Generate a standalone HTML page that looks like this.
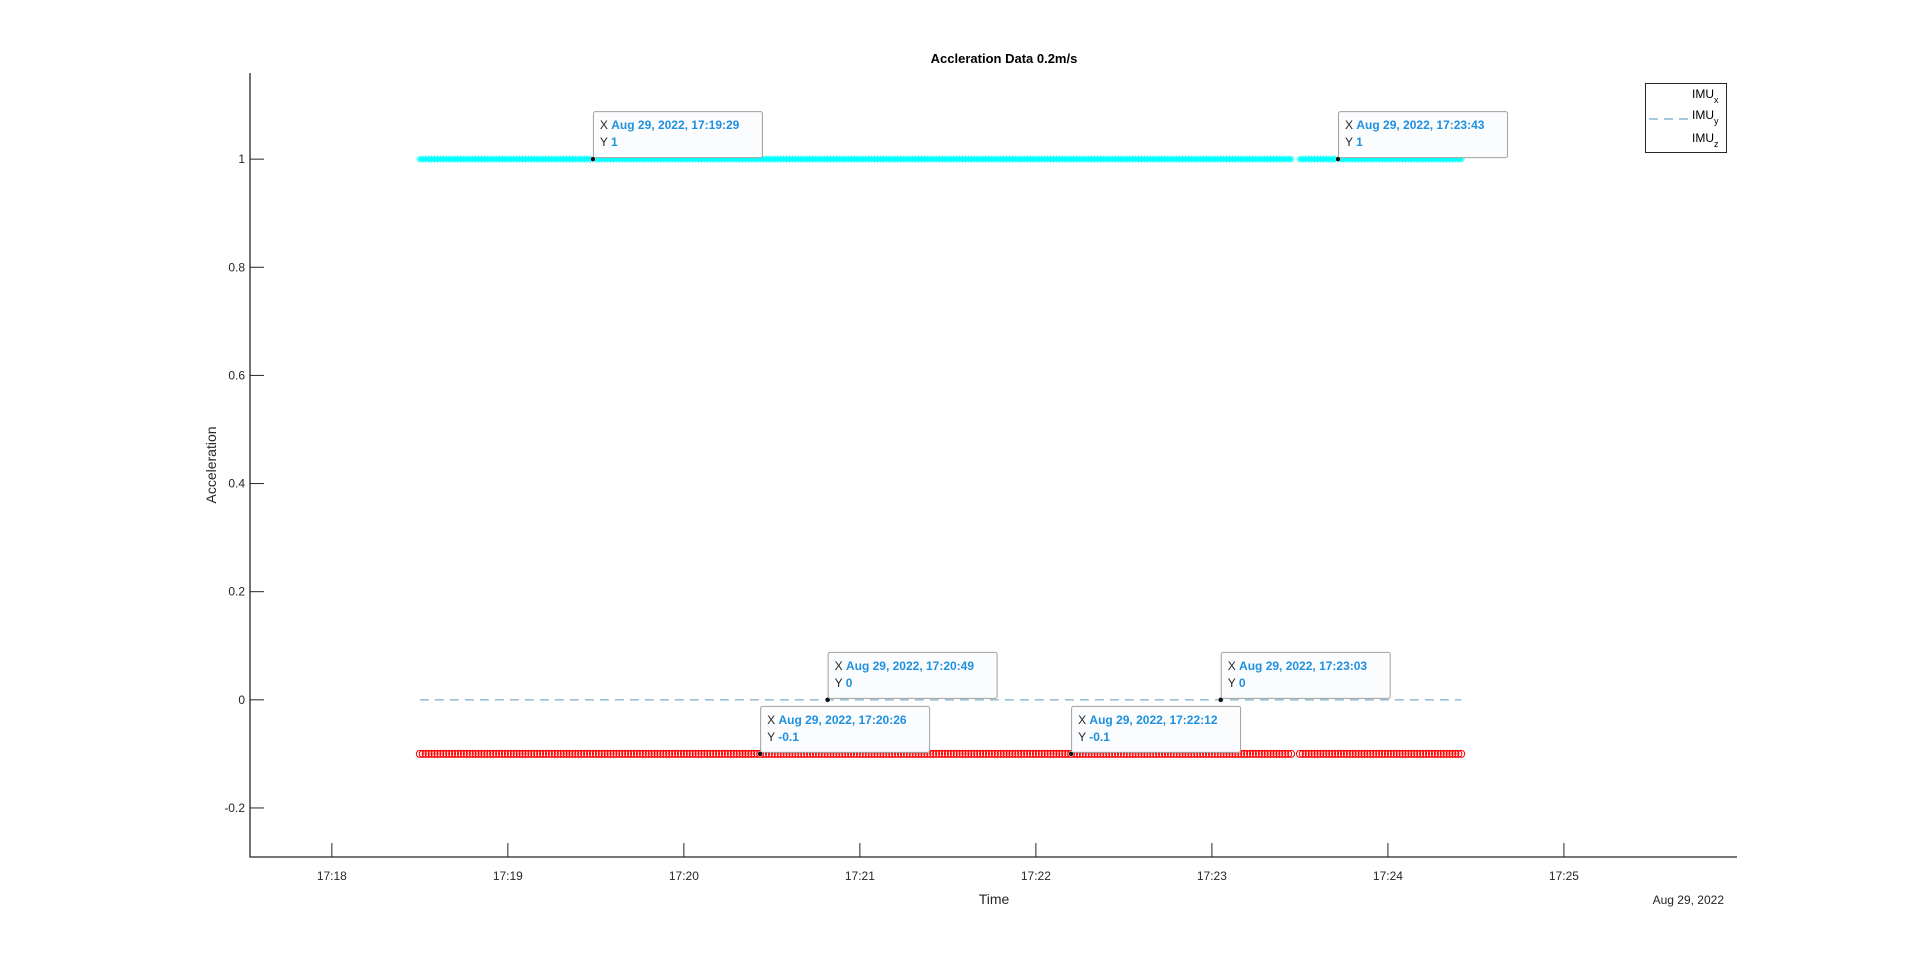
<!DOCTYPE html>
<html><head><meta charset="utf-8"><style>
html,body{margin:0;padding:0;background:#fff;}
svg{display:block;font-family:"Liberation Sans",Arial,sans-serif;}
</style></head><body>
<svg id="chart" width="1920" height="963" viewBox="0 0 1920 963">
  <text x="1004" y="63" text-anchor="middle" font-size="13" font-weight="bold" fill="#000">Accleration Data 0.2m/s</text>
  <g id="plot"></g>
  <g id="axes"></g>
  <text x="994" y="904" text-anchor="middle" font-size="14" fill="#262626">Time</text>
  <text x="1724" y="904" text-anchor="end" font-size="12" fill="#262626">Aug 29, 2022</text>
  <text transform="translate(216,465) rotate(-90)" text-anchor="middle" font-size="14" fill="#262626">Acceleration</text>
  <g id="annots"></g>
  <g>
    <rect x="1645.5" y="83.5" width="81" height="69" fill="#fff" stroke="#262626" stroke-width="1"/>
    <text x="1692" y="98" font-size="12" fill="#000">IMU<tspan font-size="9" dy="5">x</tspan></text>
    <line x1="1649" y1="119" x2="1688" y2="119" stroke="#4c8fb8" stroke-width="1" stroke-dasharray="9,6"/>
    <text x="1692" y="119" font-size="12" fill="#000">IMU<tspan font-size="9" dy="5">y</tspan></text>
    <text x="1692" y="142" font-size="12" fill="#000">IMU<tspan font-size="9" dy="5">z</tspan></text>
  </g>
</svg>
<script>
// data (time in seconds after 17:00:00)
const segments = [[1110, 1407], [1410, 1465]];
const imuxValue = [-0.1];
const imuyValue = [0];
const imuzValue = [1];
const xTickLabels = ["17:18","17:19","17:20","17:21","17:22","17:23","17:24","17:25"];
const xTickValues = [1080,1140,1200,1260,1320,1380,1440,1500];
const yTickValues = [-0.2,0,0.2,0.4,0.6,0.8,1];
const yTickLabels = ["-0.2","0","0.2","0.4","0.6","0.8","1"];
const tipTimes = [1169, 1423, 1249, 1383, 1226, 1332];
const tipValues = [1, 1, 0, 0, -0.1, -0.1];
const tipLabels = ["17:19:29","17:23:43","17:20:49","17:23:03","17:20:26","17:22:12"];

const NS = "http://www.w3.org/2000/svg";
const L = 250, R = 1737, T = 73, B = 857;
const xMin = 1052.1, xMax = 1559;
const yMin = -0.2907, yMax = 1.1593;
function xs(t){ return L + (t - xMin) / (xMax - xMin) * (R - L); }
function ys(v){ return B - (v - yMin) / (yMax - yMin) * (B - T); }
function el(tag, attrs, parent){ const e = document.createElementNS(NS, tag); for (const k in attrs) e.setAttribute(k, attrs[k]); parent.appendChild(e); return e; }

const axes = document.getElementById("axes");
const plot = document.getElementById("plot");
const annots = document.getElementById("annots");

let a = el("path", {d:`M${L},${T} L${L},${B} L${R},${B}`, fill:"none", stroke:"#262626", "stroke-width":"1.3"}, axes);


xTickValues.forEach((v,i)=>{
  const x = xs(v);
  const tk = el("line", {x1:x, y1:B, x2:x, y2:B-14, stroke:"#262626", "stroke-width":"1"}, axes);
  
  
  const t = el("text", {x:x, y:B+23, "text-anchor":"middle", "font-size":"12", fill:"#262626"}, axes);
  t.textContent = xTickLabels[i];
  
  
});
yTickValues.forEach((v,i)=>{
  const y = ys(v);
  const tk = el("line", {x1:L, y1:y, x2:L+14, y2:y, stroke:"#262626", "stroke-width":"1"}, axes);
  
  
  const t = el("text", {x:L-5, y:y+4, "text-anchor":"end", "font-size":"12", fill:"#262626"}, axes);
  t.textContent = yTickLabels[i];
  
  
});

// IMUz cyan asterisks
let gz = el("g", {stroke:"#00ffff", "stroke-width":"1", fill:"none"}, plot);


segments.forEach(s=>{
  for (let t = s[0]; t <= s[1]; t++){
    const x = xs(t), y = ys(imuzValue[0]), r = 3.5;
    el("path", {d:`M${x-r},${y} H${x+r} M${x},${y-r} V${y+r} M${x-2.5},${y-2.5} L${x+2.5},${y+2.5} M${x-2.5},${y+2.5} L${x+2.5},${y-2.5}`}, gz);
  }
});
// IMUx red circles
let gx = el("g", {stroke:"#ff0000", "stroke-width":"1", fill:"none"}, plot);


segments.forEach(s=>{
  for (let t = s[0]; t <= s[1]; t++){
    el("circle", {cx:xs(t), cy:ys(imuxValue[0]), r:3.5}, gx);
  }
});
// IMUy dashed line
let ly = el("line", {x1:xs(segments[0][0]), y1:ys(imuyValue[0]), x2:xs(segments[segments.length-1][1]), y2:ys(imuyValue[0]), stroke:"#5a9cc0", "stroke-width":"1", "stroke-dasharray":"9,6"}, plot);



// data tips
tipTimes.forEach((t,i)=>{
  const x = xs(t), y = ys(tipValues[i]);
  const g = el("g", {}, annots);
  
  
  el("rect", {x:x+0.5, y:y-47.5, width:169, height:46, rx:2, fill:"#fbfcfe", stroke:"#a0a0a0", "stroke-width":"1"}, g);
  const t1 = el("text", {x:x+7, y:y-30, "font-size":"12", fill:"#262626"}, g);
  t1.innerHTML = `X <tspan fill="#1e90e0" font-weight="bold">Aug 29, 2022, ${tipLabels[i]}</tspan>`;
  const t2 = el("text", {x:x+7, y:y-13, "font-size":"12", fill:"#262626"}, g);
  t2.innerHTML = `Y <tspan fill="#1e90e0" font-weight="bold">${tipValues[i]}</tspan>`;
  el("circle", {cx:x, cy:y, r:2.5, fill:"#111", stroke:"#fff", "stroke-width":"0.5"}, g);
});
</script>
</body></html>
